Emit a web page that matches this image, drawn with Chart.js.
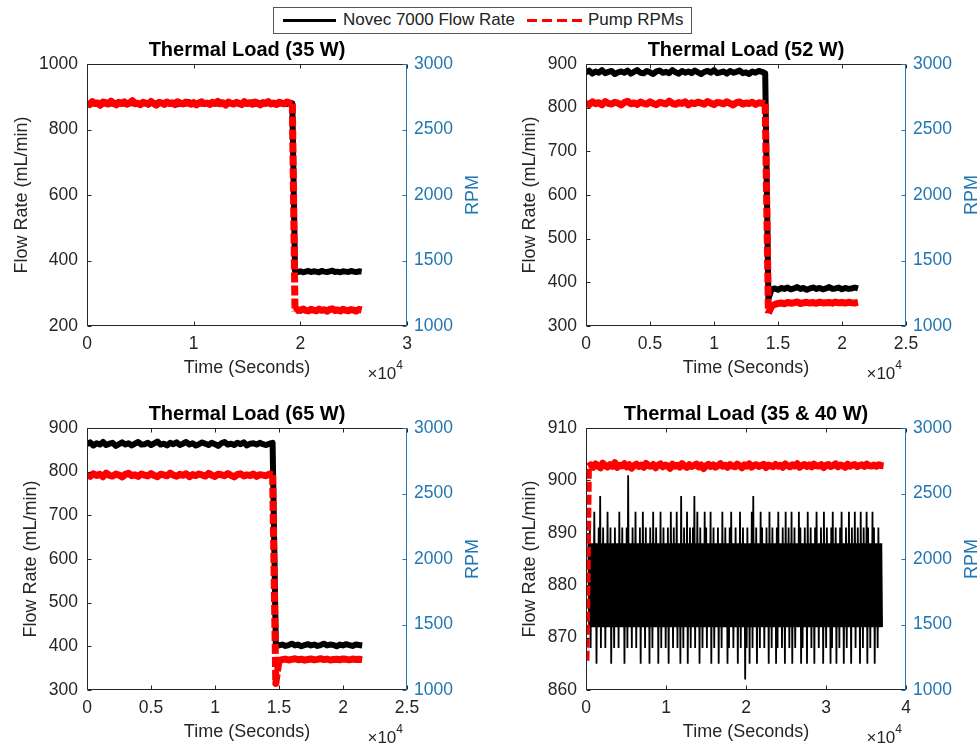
<!DOCTYPE html>
<html>
<head>
<meta charset="utf-8">
<script src="https://cdn.jsdelivr.net/npm/chart.js@4.4.1/dist/chart.umd.min.js"></script>
<style>
html,body{margin:0;padding:0;background:#fff;width:980px;height:744px;overflow:hidden;font-family:"Liberation Sans",Arial,Helvetica,sans-serif;}
canvas{position:absolute;}
#legend{position:absolute;left:273px;top:7px;width:419px;height:27px;box-sizing:border-box;border:1px solid #555;background:#fff;}
#legend .ln{position:absolute;top:11px;height:3px;}
#legend .blk{left:9px;width:53px;background:#000;}
#legend .red{left:253px;width:56px;background:repeating-linear-gradient(90deg,#ff0000 0 10px,transparent 10px 15px);}
#legend .lt{position:absolute;top:2px;font-size:17px;line-height:20px;color:#222;white-space:nowrap;}
</style>
</head>
<body>
<div id="legend">
  <span class="ln blk"></span><span class="lt" style="left:69px">Novec 7000 Flow Rate</span>
  <span class="ln red"></span><span class="lt" style="left:314px">Pump RPMs</span>
</div>
<canvas id="c1" width="490" height="344" style="left:0;top:36px"></canvas>
<canvas id="c2" width="481" height="344" style="left:499px;top:36px"></canvas>
<canvas id="c3" width="490" height="344" style="left:0;top:400px"></canvas>
<canvas id="c4" width="481" height="344" style="left:499px;top:400px"></canvas>
<script>
// ---------------- DATA ----------------
// Panel 1: Thermal Load (35 W) — samples every 250 s from t = 0
const p1Title = 'Thermal Load (35 W)';
const p1Start = 0, p1Step = 250;
const p1Flow = [
880,878,882,879,881,877,880,883,879,880,878,881,884,879,880,877,881,880,882,878,
879,881,880,876,882,880,879,883,880,878,881,879,880,882,877,880,881,879,884,880,
878,880,882,879,881,880,877,881,880,879,883,880,878,881,880,879,882,878,880,881,
879,880,883,878,880,881,879,882,880,878,881,880,879,882,880,878,881,880,
368,365,367,364,366,368,365,367,366,364,368,366,365,367,369,365,366,364,367,366,365,368,366,365,367,366];
const p1Rpm = [
2705,2690,2712,2698,2703,2685,2710,2700,2694,2716,2702,2688,2707,2699,2711,2693,2704,2720,2697,2701,
2689,2708,2702,2695,2714,2699,2686,2706,2703,2692,2710,2698,2704,2690,2712,2701,2695,2709,2700,2693,
2706,2688,2703,2711,2697,2702,2691,2708,2699,2714,2696,2704,2687,2709,2701,2694,2707,2700,2690,2712,
2698,2705,2693,2710,2702,2688,2706,2699,2713,2695,2703,2691,2708,2700,2696,2710,2702,2698,
1108,1125,1118,1130,1120,1115,1127,1121,1116,1129,1119,1124,1113,1126,1131,1118,1122,1115,1128,1120,1117,1125,1121,1114,1127,1122];
const p1XMax = 30000, p1XStep = 10000;
const p1YMin = 200, p1YMax = 1000, p1YStep = 200;

// Panel 2: Thermal Load (52 W)
const p2Title = 'Thermal Load (52 W)';
const p2Start = 0, p2Step = 250;
const p2Flow = [
881,885,878,883,880,886,879,882,884,877,881,883,880,885,878,882,886,880,879,884,
881,877,883,885,880,882,879,886,881,878,884,880,883,879,885,881,877,882,884,880,
886,879,881,883,878,884,880,882,885,879,881,877,883,880,884,882,879,
362,384,386,383,387,385,388,384,386,389,385,387,383,386,388,385,387,384,386,389,385,386,388,384,387,385,386,388,386];
const p2Rpm = [
2702,2690,2711,2697,2705,2688,2713,2699,2694,2708,2701,2687,2706,2715,2696,2703,2691,2709,2700,2694,
2712,2698,2689,2707,2702,2695,2716,2700,2692,2706,2699,2711,2688,2704,2697,2709,2701,2693,2714,2700,
2690,2707,2703,2696,2712,2699,2687,2705,2710,2694,2702,2698,2708,2691,2704,2700,2696,
1097,1150,1165,1172,1176,1170,1180,1174,1178,1183,1172,1177,1181,1175,1179,1173,1182,1176,1178,1180,1174,1183,1177,1179,1175,1181,1178,1176,1180];
const p2XMax = 25000, p2XStep = 5000;
const p2YMin = 300, p2YMax = 900, p2YStep = 100;

// Panel 3: Thermal Load (65 W)
const p3Title = 'Thermal Load (65 W)';
const p3Start = 0, p3Step = 250;
const p3Flow = [
863,867,860,865,862,868,861,864,866,859,863,867,862,865,860,864,868,862,863,866,
861,865,869,862,864,860,866,863,867,861,864,868,862,865,860,863,867,864,861,866,
863,859,865,868,862,864,861,866,863,867,860,864,865,862,866,863,861,864,866,
405,402,404,401,403,406,402,404,400,403,405,402,404,401,403,406,402,404,403,400,404,402,405,403,401,404,403,402];
const p3Rpm = [
2642,2630,2651,2637,2646,2628,2655,2639,2633,2648,2641,2627,2646,2654,2636,2643,2631,2649,2640,2634,
2652,2638,2629,2647,2642,2635,2656,2640,2632,2646,2639,2651,2628,2644,2637,2649,2641,2633,2654,2640,
2630,2647,2643,2636,2652,2639,2627,2645,2650,2634,2642,2638,2648,2631,2644,2640,2636,2649,2642,
1050,1225,1232,1236,1229,1234,1238,1231,1235,1228,1233,1237,1230,1234,1239,1232,1236,1229,1233,1235,1231,1237,1234,1230,1236,1233,1235,1232];
const p3XMax = 25000, p3XStep = 5000;
const p3YMin = 300, p3YMax = 900, p3YStep = 100;

// Panel 4: Thermal Load (35 & 40 W) — flow every 92 s from t = 300, RPM every 300 s from t = 0
const p4Title = 'Thermal Load (35 & 40 W)';
const p4FlowStart = 300, p4FlowStep = 92;
const p4Flow = [
888,872,891,868,888,872,888,872,894,872,888,865,888,872,891,872,897,868,888,872,
891,872,888,868,888,872,894,872,888,872,891,865,888,872,888,868,891,872,888,872,
888,868,894,872,888,872,891,872,888,865,888,872,891,868,901,872,888,872,888,868,
891,872,888,872,894,868,888,872,888,872,891,865,888,872,894,872,888,868,891,872,
888,872,888,865,891,872,888,868,894,872,888,872,891,872,888,865,888,872,894,868,
888,872,891,872,888,868,888,872,891,865,888,872,894,872,888,868,891,872,888,872,
894,868,888,872,888,865,897,872,888,868,891,872,888,872,894,865,888,872,891,868,
888,872,891,872,897,868,888,872,894,872,888,865,891,872,888,868,888,872,894,872,
891,868,888,872,888,872,894,865,888,872,891,868,888,872,888,872,891,865,888,872,
888,868,894,872,888,872,891,872,888,865,888,868,891,872,894,872,888,868,888,872,
891,872,888,865,888,872,894,868,888,872,891,872,888,862,888,868,891,872,888,865,
888,872,894,868,897,872,888,872,891,865,888,872,888,868,894,872,891,872,888,868,
888,872,891,872,888,865,894,872,888,868,891,872,888,872,888,865,891,868,894,872,
888,872,888,868,891,872,888,865,894,872,888,872,891,868,888,872,894,865,888,872,
891,868,888,872,888,872,894,872,891,865,888,868,888,872,891,872,888,865,894,872,
888,872,891,868,888,872,888,865,891,872,894,872,888,868,888,872,891,872,888,865,
894,872,888,868,891,872,888,872,888,865,891,868,894,872,888,872,891,865,888,872,
888,868,891,872,894,872,888,865,888,872,891,868,888,872,894,872,888,865,891,872,
888,872,894,868,888,872,891,872,888,865,894,872,888,868,891,872,888,872,894,865,
891,872,888,868,888,872,894,872,891,865,888,872,888,868,891,872,888,872,888,872];
const p4RpmStart = 0, p4RpmStep = 300;
const p4Rpm = [
1224,2705,2718,2700,2725,2710,2696,2731,2714,2702,2720,2708,2735,2699,2716,2711,2727,2703,2719,2694,
2712,2724,2706,2717,2700,2729,2713,2708,2721,2697,2715,2726,2704,2718,2710,2692,2723,2709,2716,2702,
2728,2711,2699,2720,2707,2714,2725,2703,2717,2690,2712,2722,2706,2719,2701,2713,2727,2708,2716,2700,
2721,2710,2704,2724,2712,2697,2718,2709,2726,2702,2715,2720,2706,2713,2723,2699,2717,2711,2705,2722,
2708,2716,2701,2725,2713,2704,2719,2710,2727,2700,2714,2721,2707,2718,2703,2724,2712,2709,2720,2698,
2715,2722,2706,2713,2726,2704,2718,2711,2700,2723,2709,2716,2721,2705,2714,2719,2707,2724,2712,2710,
2717,2708,2720,2713,2711];
const p4XMax = 40000, p4XStep = 10000;
const p4YMin = 860, p4YMax = 910, p4YStep = 10;

// RPM axis (all panels)
const rpmMin = 1000, rpmMax = 3000, rpmStep = 500;

// ---------------- DRAWING ----------------
const FONT = '"Liberation Sans", Arial, Helvetica, sans-serif';
const AX = '#262626';
const BLUE = '#2277b3';
const PLOT_LEFT = 87, PLOT_W = 320;

const pts = (start, step, vals) => vals.map((v, i) => ({x: start + i * step, y: v}));

// dashed look only shows where the red line runs steeply (noise hides it elsewhere)
const redDash = c => (Math.abs(c.p1.y - c.p0.y) > 3 * Math.abs(c.p1.x - c.p0.x) ? [10, 3] : [100000, 1]);

const frame = {
  id: 'frame',
  afterDraw(chart, args, opts) {
    const {ctx, chartArea} = chart;
    const {left, right, top, bottom} = chartArea;
    const L = Math.round(left) + 0.5, R = Math.round(right) - 0.5, T = Math.round(top) + 0.5, B = Math.round(bottom) - 0.5;
    ctx.save();
    ctx.lineWidth = 1;
    ctx.strokeStyle = AX;
    ctx.beginPath();
    ctx.moveTo(R, T); ctx.lineTo(L, T); ctx.lineTo(L, B); ctx.lineTo(R, B);
    const xs = chart.scales.x;
    xs.ticks.forEach(t => {
      const px = Math.round(xs.getPixelForValue(t.value)) + 0.5;
      ctx.moveTo(px, B); ctx.lineTo(px, B - 4);
      ctx.moveTo(px, T); ctx.lineTo(px, T + 4);
    });
    const yl = chart.scales.yL;
    yl.ticks.forEach(t => {
      const py = Math.round(yl.getPixelForValue(t.value)) + 0.5;
      ctx.moveTo(L, py); ctx.lineTo(L + 4, py);
    });
    ctx.stroke();
    ctx.strokeStyle = BLUE;
    ctx.beginPath();
    ctx.moveTo(R, T - 0.5); ctx.lineTo(R, B + 0.5);
    const yr = chart.scales.yR;
    yr.ticks.forEach(t => {
      const py = Math.round(yr.getPixelForValue(t.value)) + 0.5;
      ctx.moveTo(R, py); ctx.lineTo(R - 4, py);
    });
    ctx.stroke();
    // title
    ctx.fillStyle = '#000';
    ctx.font = 'bold 20px ' + FONT;
    ctx.textAlign = 'center';
    ctx.textBaseline = 'middle';
    ctx.fillText(opts.title, (left + right) / 2, top - 14);
    // RPM label
    ctx.save();
    ctx.translate(right + 66, (top + bottom) / 2);
    ctx.rotate(-Math.PI / 2);
    ctx.fillStyle = BLUE;
    ctx.font = '18px ' + FONT;
    ctx.fillText('RPM', 0, 0);
    ctx.restore();
    // x10^4 multiplier
    ctx.fillStyle = AX;
    ctx.textAlign = 'right';
    ctx.textBaseline = 'alphabetic';
    ctx.font = '12px ' + FONT;
    const w4 = ctx.measureText('4').width;
    ctx.fillText('4', right - 4, bottom + 43);
    ctx.font = '17px ' + FONT;
    ctx.fillText('\u00d710', right - 4 - w4, bottom + 53);
    ctx.restore();
  }
};

function panel(id, o) {
  const canvas = document.getElementById(id);
  const cw = canvas.width;
  const tickFont = {family: FONT, size: 17.5};
  const labelFont = {family: FONT, size: 18};
  return new Chart(canvas, {
    type: 'line',
    data: {
      datasets: [
        {label: 'Pump RPMs', data: o.rpm, yAxisID: 'yR', borderColor: '#ff0000', borderWidth: 7,
         borderDash: [10, 3], segment: {borderDash: redDash}, pointRadius: 0, tension: 0, borderJoinStyle: 'round', fill: false},
        {label: 'Novec 7000 Flow Rate', data: o.flow, yAxisID: 'yL', borderColor: '#000000', borderWidth: o.fw,
         borderDash: [100000, 1], pointRadius: 0, tension: 0, borderJoinStyle: o.join, fill: false}
      ]
    },
    options: {
      responsive: false, animation: false, events: [],
      layout: {padding: {top: 28, left: 0, right: 0, bottom: 0}},
      plugins: {legend: {display: false}, tooltip: {enabled: false}, title: {display: false}, frame: {title: o.title}},
      scales: {
        x: {
          type: 'linear', min: 0, max: o.xMax,
          ticks: {stepSize: o.xStep, callback: v => String(v / 1e4), font: tickFont, color: AX, padding: 7.5, maxRotation: 0, autoSkip: false},
          grid: {display: false, drawTicks: false, tickLength: 0}, border: {display: false},
          title: {display: true, text: 'Time (Seconds)', font: labelFont, color: AX, padding: {top: 0, bottom: 1}},
          afterFit: s => { s.height = 54; }
        },
        yL: {
          type: 'linear', position: 'left', min: o.yMin, max: o.yMax,
          ticks: {stepSize: o.yStep, callback: v => String(v), font: tickFont, color: AX, padding: 9},
          grid: {display: false, drawTicks: false, tickLength: 0}, border: {display: false},
          title: {display: true, text: 'Flow Rate (mL/min)', font: labelFont, color: AX, padding: {top: o.ltPad, bottom: 0}},
          afterFit: s => { s.width = PLOT_LEFT; }
        },
        yR: {
          type: 'linear', position: 'right', min: rpmMin, max: rpmMax,
          ticks: {stepSize: rpmStep, callback: v => String(v), font: tickFont, color: BLUE, padding: 7},
          grid: {display: false, drawTicks: false, tickLength: 0}, border: {display: false},
          afterFit: s => { s.width = cw - PLOT_LEFT - PLOT_W; }
        }
      }
    },
    plugins: [frame]
  });
}

panel('c1', {title: p1Title, flow: pts(p1Start, p1Step, p1Flow), rpm: pts(p1Start, p1Step, p1Rpm), fw: 6, join: 'round',
  xMax: p1XMax, xStep: p1XStep, yMin: p1YMin, yMax: p1YMax, yStep: p1YStep, ltPad: 11});
panel('c2', {title: p2Title, flow: pts(p2Start, p2Step, p2Flow), rpm: pts(p2Start, p2Step, p2Rpm), fw: 6, join: 'round',
  xMax: p2XMax, xStep: p2XStep, yMin: p2YMin, yMax: p2YMax, yStep: p2YStep, ltPad: 20});
panel('c3', {title: p3Title, flow: pts(p3Start, p3Step, p3Flow), rpm: pts(p3Start, p3Step, p3Rpm), fw: 6, join: 'round',
  xMax: p3XMax, xStep: p3XStep, yMin: p3YMin, yMax: p3YMax, yStep: p3YStep, ltPad: 20});
panel('c4', {title: p4Title, flow: pts(p4FlowStart, p4FlowStep, p4Flow), rpm: pts(p4RpmStart, p4RpmStep, p4Rpm), fw: 1.8, join: 'bevel',
  xMax: p4XMax, xStep: p4XStep, yMin: p4YMin, yMax: p4YMax, yStep: p4YStep, ltPad: 20});
</script>
</body>
</html>
